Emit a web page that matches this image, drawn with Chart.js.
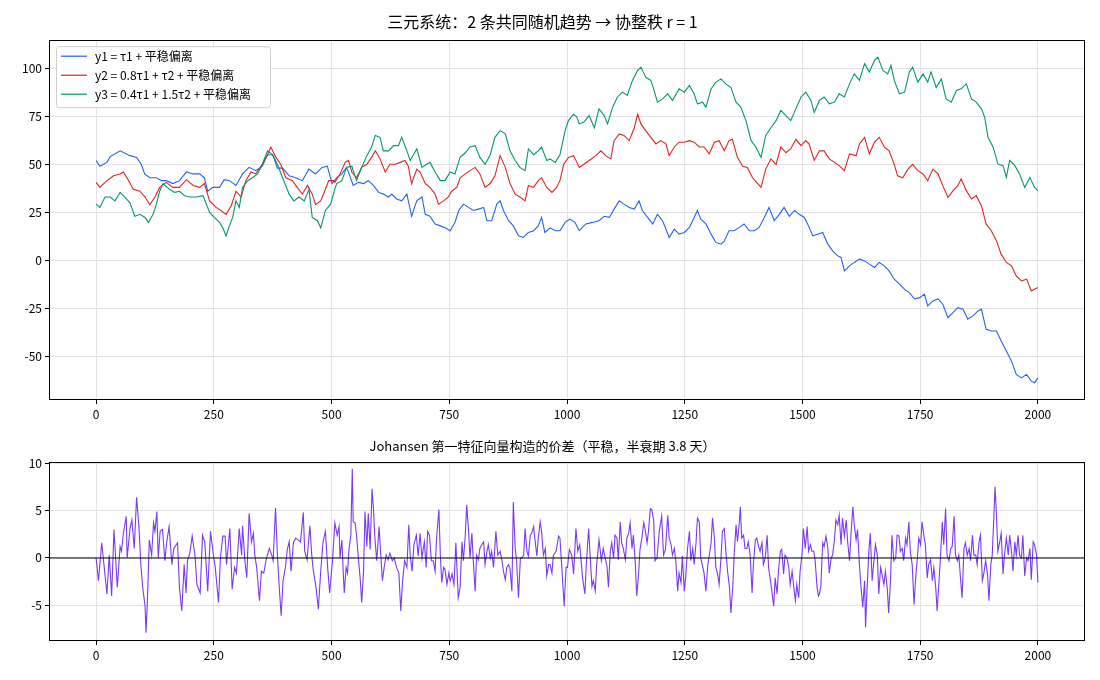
<!DOCTYPE html>
<html>
<head>
<meta charset="utf-8">
<title>三元系统</title>
<script src="https://cdn.jsdelivr.net/npm/chart.js@4.4.1/dist/chart.umd.min.js"></script>
<style>
  html, body { margin: 0; padding: 0; background: #fff; }
  #wrap { position: relative; width: 1100px; height: 680px; }
  .box { position: absolute; left: 0; width: 1100px; }
</style>
</head>
<body>
<div id="wrap">
  <div class="box" style="top:0;height:425px"><canvas id="trendChart" width="1100" height="425"></canvas></div>
  <div class="box" style="top:425px;height:255px"><canvas id="spreadChart" width="1100" height="255"></canvas></div>
</div>
<script>
// values, [t, value]
const y1Pts = [[0,52],[8,49],[23,51],[30,54],[51,57],[72,54.5],[86,53.6],[96,50],[103,45],[114,43],[128,43],[139,41.5],[149,41.5],[163,40],[177,41.5],[192,46],[206,45],[220,45],[230,43],[237,36],[248,38],[262,38],[272,42],[283,41.5],[297,39],[311,45],[325,48.4],[339,46.7],[353,49],[364,55],[375,55],[385,48],[396,48],[410,44],[424,43],[438,41.5],[452,47.5],[466,45],[480,48.4],[491,49],[501,40],
  [511,43],[522,45],[532,48.4],[539,44],[546,39],[557,40.6],[568,40],[578,41.5],[589,39],[600,35.4],[610,34.5],[621,33],[628,34.5],[638,32],[649,31],[660,34.5],[670,23],[681,31],[692,33],[699,24],[709,23],[720,19],[731,18],[741,17],[752,15.5],[762,19.8],[770,26],[780,29.3],[791,27.6],[801,26],[812,26.7],[823,27.6],[830,20.7],[840,20.7],[851,29.3],[858,31],[865,26],[876,20.7],[886,18],[897,12.8],[907,12],[918,14.6],[929,15.5],[939,18],[946,22.4],[953,14.6],[964,17],[975,15.5],[985,15.5],[996,19.8],[1006,21.5],[1017,19.8],[1026,15.5],
  [1040,19],[1054,19.8],[1068,20.7],[1079,23],[1090,22.4],[1100,26.7],[1111,31],[1121,29.3],[1132,27.6],[1143,26.7],[1153,31],[1160,26],[1171,22.4],[1182,19],[1192,24],[1203,20.7],[1217,12],[1228,16.3],[1238,13.7],[1249,14.6],[1260,17.2],[1270,22.4],[1277,26],[1284,21.5],[1295,19],[1306,13.7],[1316,9.4],[1327,8.5],[1334,10],[1344,15.5],[1355,15.5],[1366,17.2],[1376,19],[1387,15.5],[1398,15.5],[1408,17.2],[1419,22.4],[1429,27.6],[1440,20.7],[1451,24],[1461,27.6],[1472,23],[1483,26],[1493,24],[1504,22.4],[1511,19],
  [1522,12.8],[1532,13.7],[1543,14.6],[1554,8.5],[1564,5],[1575,2.4],[1582,1.6],[1589,-5.4],[1600,-2.8],[1610,-1],[1621,0.7],[1632,-0.2],[1642,-1.9],[1653,-3.6],[1663,-1],[1674,-2.8],[1684,-5.4],[1695,-9.7],[1706,-12.3],[1717,-15],[1727,-16.7],[1738,-20],[1749,-19.3],[1759,-17.5],[1766,-23.6],[1777,-21],[1788,-20],[1798,-22.7],[1809,-29.7],[1820,-27],[1830,-24.5],[1841,-25.3],[1851,-30.5],[1862,-28.8],[1873,-26.2],[1880,-25.3],[1890,-35.8],[1901,-36.6],[1912,-36.6],[1922,-41.8],[1933,-47],[1944,-52.3],[1954,-59.2],[1965,-61],[1976,-59.2],[1986,-62.7],[1993,-63.5],[2000,-61]];

const y2Pts = [[0,40.6],[8,38],[23,41.5],[37,44],[51,45],[58,46],[68,42],[79,37],[93,36],[104,33],[114,29],[125,33],[135,38],[149,40.6],[163,38],[177,38],[192,42],[206,39],[220,38],[230,40],[241,31],[255,27.6],[265,26],[276,24],[287,28.5],[297,36],[308,33],[318,41.5],[329,46],[339,45],[353,50],[364,55],[371,59],[382,53.6],[392,50],[403,43],[417,41.5],[427,38],[438,34.5],[449,39],[459,34.5],[466,29],[477,31],[487,37],[494,41.5],[505,41.5],
  [507,40.6],[518,45],[529,51],[536,52],[543,46],[553,43],[564,48.4],[575,50],[585,53.6],[593,57],[603,52.8],[614,46],[624,50],[635,50],[646,51],[656,52],[663,49],[670,40],[681,47.5],[688,46],[699,40],[709,38],[720,34.5],[727,29.3],[738,31],[748,33],[755,36],[766,38],[773,43],[784,45],[794,46.7],[805,48.4],[815,45],[826,38],[837,40],[847,44],[858,54.5],[869,48.4],[879,40],[890,34.5],[900,33],[911,31],[918,39],[929,38],[939,41.5],[946,43],[957,38],[968,35.4],[978,38],[985,41.5],[993,50],[1003,53.6],[1014,54.5],[1021,51],[1026,48.4],
  [1036,50],[1047,52],[1061,54.5],[1072,57],[1082,54.5],[1093,52.8],[1100,62.3],[1111,65.8],[1121,65],[1132,62.3],[1143,69],[1150,76],[1157,71],[1167,67.5],[1178,64],[1189,60.6],[1199,62.3],[1210,60.6],[1217,54.5],[1228,59],[1238,61.5],[1249,61.5],[1260,62.3],[1270,61.5],[1281,59],[1291,59],[1302,55.4],[1313,61.5],[1323,62.3],[1334,57],[1344,62.3],[1351,63],[1362,53.6],[1373,49],[1383,48.4],[1394,43],[1405,40],[1412,38],[1422,47.5],[1433,52.8],[1444,50],[1454,59],[1465,56],[1475,58],[1486,63],[1497,59.7],[1507,62.3],[1514,60.6],
  [1525,52],[1536,57],[1546,57],[1557,52.8],[1568,51],[1578,49.3],[1589,46.7],[1600,55.4],[1614,54.5],[1621,60.6],[1632,64],[1642,55.4],[1653,61.5],[1663,64],[1674,58.9],[1684,57],[1695,50],[1702,44],[1713,43],[1724,47.5],[1734,50],[1745,46.7],[1756,45],[1766,41.5],[1777,47.5],[1788,45],[1798,38.9],[1809,32.8],[1820,36.3],[1830,38.9],[1837,42.4],[1848,36.3],[1859,32],[1869,33.7],[1880,28.5],[1890,19],[1901,15.5],[1912,10.2],[1922,3.3],[1933,-1],[1944,-2.8],[1954,-8],[1965,-10.6],[1976,-9.7],[1986,-15.8],[2000,-14]];

const y3Pts = [[0,29.3],[8,27.6],[19,33],[30,33],[40,31],[51,35.4],[61,33],[72,30],[82,23],[93,24],[104,22.4],[111,19.8],[121,24],[128,29.3],[135,36],[142,40],[156,37],[167,35.4],[177,36],[188,33.7],[199,33],[213,33],[227,33.7],[241,25],[251,22.4],[262,19.8],[269,17],[276,12.8],[283,18],[290,22.4],[297,31],[304,27.6],[311,38],[322,41.5],[332,43],[343,45],[353,50],[364,57],[375,55],[385,50],[396,43],[410,34.5],[420,31],[431,33],[442,31],[452,37],[459,22.4],[470,20.7],[477,17],[487,26],[498,29.3],[508,38],
  [511,40],[522,41.5],[532,48.4],[543,49],[553,41.5],[564,48.4],[575,54.5],[585,59],[593,65],[603,64],[610,57],[621,57],[632,59.7],[642,59.7],[649,64],[660,57],[667,52],[681,58],[692,48.4],[702,50],[709,51],[720,46],[731,41.5],[741,41.5],[752,46],[762,45],[773,53.6],[784,56],[794,59],[805,59.7],[815,53.6],[826,50],[837,55],[847,64],[858,67.5],[869,65.8],[879,57],[890,52],[900,48.4],[911,46.7],[918,58],[929,55],[939,57],[946,59],[957,52],[964,52.8],[975,51],[985,55],[996,67.5],[1003,72.7],[1014,76],[1021,74.5],[1026,71],
  [1036,72],[1047,75.3],[1058,69],[1068,78.8],[1079,75.3],[1086,71],[1097,79.7],[1107,85],[1118,87.5],[1128,85.8],[1139,93.6],[1150,98.8],[1157,100.5],[1167,95.3],[1178,93.6],[1185,88.4],[1192,82.3],[1203,84],[1214,86.6],[1224,83.2],[1238,89.2],[1249,87.5],[1260,91],[1270,86.6],[1277,81.4],[1288,82.3],[1295,79.7],[1306,89.2],[1316,92.7],[1327,94.4],[1337,91.8],[1348,90],[1359,82.3],[1369,79.7],[1380,72.7],[1391,62.3],[1401,59],[1412,53.6],[1422,65],[1433,69],[1444,72.7],[1454,78],[1465,75.3],[1475,72.7],[1486,78.8],[1497,85],[1507,87.5],[1518,83.2],
  [1525,77],[1536,83.2],[1546,85],[1557,81.4],[1568,82.3],[1578,86.6],[1589,85],[1600,91.8],[1610,97],[1621,93.6],[1632,102.3],[1642,98],[1653,104],[1660,105.7],[1671,98.8],[1681,97],[1688,101.4],[1695,93.6],[1706,86.6],[1717,87.5],[1727,98],[1734,100.5],[1745,92.7],[1756,97],[1766,92.7],[1773,98],[1784,90],[1795,94.4],[1805,84],[1816,82.3],[1827,88.4],[1837,89.2],[1848,91.8],[1859,84],[1869,82.3],[1880,78.8],[1887,74.5],[1894,64],[1905,58.9],[1915,50.2],[1926,49.3],[1933,43.2],[1940,52],[1951,49.3],[1961,45],[1972,38],[1983,43.2],[1993,38],[2000,36.3]];

const spreadPts = [[0,0],[5,-2.4],[12,1.6],[23,-3.8],[28,0.3],[33,-4],[38,3],[45,-3.1],[51,1.2],[54,0.7],[58,2.6],[64,4.4],[66,0],[72,3.1],[76,4],[81,1],[86,6.4],[91,3.3],[95,-0.7],[99,-3.1],[104,-5.1],[106,-7.9],[109,-4.5],[113,1.9],[118,0.3],[122,3.7],[125,2.8],[129,4.9],[132,0],[136,2.8],[141,3],[146,-0.3],[150,1.7],[155,3.3],[161,-0.7],[165,1],[173,1.6],[177,-3.1],[182,-5.6],[187,-0.7],[191,-3.7],[194,-0.3],[199,0.5],[204,2.3],[210,0.3],[214,-2.8],[221,-3.7],[226,2.4],[231,1.6],[237,-3.5],[243,2.8],[249,0.3],[253,-1],[260,-4.7],[264,0],[269,2.3],[274,2.3],[277,-0.7],[284,3.1],[289,-3.3],[294,-1],[298,-1.6],[304,3.1],[309,0.3],[311,3.4],[316,-0.3],[320,-2.1],[325,4.7],[330,1.7],[334,2.6],[337,0.3],[341,-1],[347,-4.5],[351,-1.4],[356,-1.6],[362,0],[368,1],[373,0.3],[376,-0.3],[381,5.3],[385,0.3],[389,-3.1],[393,-6.1],[397,-2.4],[402,-1],[406,0.9],[410,1.7],[414,-1.4],[419,1.6],[424,2.1],[429,1.9],[434,1.7],[440,4.8],[443,0.7],[448,-0.2],[454,3.4],[458,0.3],[461,-1.2],[467,-3.1],[472,-5.4],[477,-1.4],[482,1.7],[487,2.8],[492,-1.2],[496,-3.7],[502,-0.3],[507,3.7],[512,2.4],[516,3.3],
  [518,0],[522,1.9],[525,-1.7],[527,-3.7],[531,-1],[534,-1.6],[537,0.9],[541,2.4],[544,9.4],[546,3.8],[550,3.7],[553,2.4],[557,0],[561,-2.3],[564,-4.7],[568,-1.4],[571,4.9],[575,1.2],[578,4.7],[582,0.9],[586,7.3],[589,5.2],[592,2.1],[596,-0.3],[601,3.3],[604,0.7],[608,-2.4],[612,-0.9],[616,0.3],[620,-0.2],[624,0.5],[629,-0.3],[633,0],[638,-1],[643,-1.6],[647,-5.6],[651,-2.4],[655,-0.3],[660,-1],[664,3.5],[667,0.3],[671,-1.4],[675,1.4],[680,2.4],[684,0.2],[688,2.6],[692,0],[697,1.7],[701,-1],[704,2.8],[708,2.4],[712,-0.3],[716,-0.3],[720,-1.4],[723,2.1],[728,5.1],[731,0.3],[734,-2.6],[738,-1],[741,-1.2],[745,-2.8],[749,-1.6],[752,-2.4],[756,-1.7],[760,-2.8],[764,1.6],[769,-4.2],[773,-3.1],[777,1.7],[780,-0.3],[784,2.4],[787,5.6],[791,2.8],[794,0],[798,2.6],[801,-0.3],[805,-3.5],[808,0.3],[812,-0.2],[815,1],[819,1.4],[823,1.7],[826,-0.7],[830,0.7],[833,1.4],[837,0],[840,0.7],[844,-1],[849,2.8],[853,0.3],[858,0.7],[862,-0.3],[865,-1.4],[869,-2.3],[872,-1],[876,-0.7],[879,-1.2],[883,-3.5],[886,5.9],[890,1],[893,-0.3],[897,-4.2],[901,0],[904,0],[908,0.3],[911,3.1],[915,0.7],[918,0.2],[922,2.4],[925,2.6],[929,3.3],[932,1.9],[936,0.2],[939,2.1],[943,3.8],[946,2.8],[950,0.3],[954,1],[957,-1.9],[961,-0.7],[964,-0.7],[968,-1.6],[971,0.3],[977,0.7],[982,2.3],[985,2.1],[989,-1],[994,-5.1],[998,-1],[1001,-1],[1005,0.9],[1010,0.3],[1014,-1.7],[1019,3.1],[1023,0.7],[1027,1.4],
  [1029,0.3],[1033,-2.1],[1038,-3.8],[1041,-0.7],[1046,3.1],[1049,0.3],[1053,-3],[1056,-2.4],[1060,-3.5],[1063,-0.7],[1068,1.9],[1073,-0.3],[1077,1],[1081,0],[1085,-0.9],[1088,-3.1],[1092,0.7],[1095,1.6],[1099,0],[1102,2.4],[1106,2.1],[1109,-0.2],[1113,3.8],[1116,1.6],[1120,0.9],[1124,-0.2],[1127,2.1],[1131,2.6],[1134,3.7],[1138,1],[1141,2.4],[1145,-0.5],[1148,-4],[1152,-1.7],[1155,0.9],[1159,2.1],[1163,3.7],[1166,3],[1170,1.6],[1173,2.8],[1177,5.2],[1180,5.1],[1184,4],[1187,-0.3],[1191,0],[1196,2.8],[1201,4.4],[1205,0.3],[1209,0.9],[1214,4.5],[1217,2.1],[1221,1.4],[1224,0.3],[1228,1],[1231,-0.3],[1235,-3.5],[1238,-1.6],[1242,-2.6],[1245,0.2],[1249,-3.5],[1252,-2.1],[1256,1],[1260,2.8],[1263,-0.3],[1267,1],[1270,-0.7],[1274,1.6],[1277,4.2],[1281,3.8],[1284,0],[1288,-0.9],[1291,-1.6],[1295,-3.5],[1299,-0.7],[1302,0.2],[1306,1.6],[1309,4.2],[1313,2.1],[1316,-1],[1320,-1.7],[1323,-2.8],[1327,0],[1330,2.8],[1334,3.1],[1338,0.3],[1341,-1.4],[1345,-3.1],[1348,-5.8],[1352,-3.1],[1355,0.3],[1359,3.5],[1362,1.7],[1366,3.8],[1368,5.4],[1371,2.1],[1375,2.4],[1378,1],[1382,1],[1385,1.7],[1389,0.3],[1393,-3.7],[1396,-0.5],[1400,1.9],[1403,2.1],[1407,1.2],[1410,0.7],[1414,1.6],[1417,-0.7],[1421,0],[1425,2.4],[1428,-1],[1432,-2.4],[1435,-3.5],[1439,-5.1],[1442,-2.1],[1446,-3.8],[1449,-1.4],[1453,0.7],[1456,0.9],[1460,-1.7],[1463,0.3],[1467,0],[1471,-1],[1474,-2.8],[1478,-1.4],[1481,-2.8],[1485,-4.5],[1488,-2.8],[1492,-4.2],[1495,-1.4],[1499,0.3],[1502,3.1],[1506,1],[1510,3.3],[1513,0.7],[1517,1.4],[1520,0.7],[1524,0.7],[1527,-0.3],[1531,-3.1],[1534,-4],
  [1536,-3.8],[1539,-3],[1543,1.6],[1546,1.2],[1550,2.3],[1554,1],[1557,-1.6],[1561,0],[1564,0.3],[1568,1.9],[1571,4],[1575,3.5],[1578,4.5],[1582,1.4],[1585,4.2],[1589,2.3],[1593,4],[1596,1.7],[1600,-0.3],[1603,2.4],[1607,5.4],[1610,3.5],[1614,1.9],[1617,3],[1621,-0.7],[1624,-2.8],[1628,-5.2],[1632,-2.4],[1634,-7.3],[1637,-3.5],[1641,0.7],[1644,2.6],[1648,-2.4],[1651,-0.7],[1655,1.4],[1659,0.3],[1662,-3.8],[1666,-1],[1669,-1.7],[1673,-2.8],[1676,-1.4],[1680,-3.1],[1683,-5.8],[1687,-2.4],[1690,2.4],[1694,-0.3],[1698,0],[1701,2.4],[1705,2.3],[1708,0.7],[1712,1],[1715,-0.3],[1719,2.1],[1722,1.4],[1726,3.8],[1729,0.7],[1733,-0.7],[1737,-4.9],[1740,-2.4],[1744,0],[1747,2.1],[1751,1.4],[1754,3.8],[1758,2.3],[1761,1.4],[1765,-2.1],[1768,-0.7],[1772,-0.2],[1776,-2.4],[1779,-1],[1783,-3.1],[1786,-5.6],[1790,-2.4],[1793,0],[1797,3.8],[1800,1.4],[1804,5.2],[1807,0.3],[1811,-0.3],[1815,1],[1818,1.2],[1822,4.4],[1825,0.3],[1829,-0.3],[1832,0.3],[1836,-2.4],[1839,-4.2],[1843,1],[1846,1.6],[1850,0.3],[1854,1],[1857,-0.3],[1861,2.4],[1864,0.3],[1868,0.3],[1871,-0.7],[1875,1.7],[1878,2.4],[1882,-2.4],[1885,-1.7],[1889,-0.3],[1893,-1.7],[1896,-4.5],[1900,-0.7],[1903,0.3],[1906,3.8],[1909,7.5],[1912,4.5],[1915,0.7],[1919,1.7],[1922,2.6],[1926,-1.7],[1929,0.3],[1933,2.1],[1937,0.3],[1940,2.4],[1944,0.7],[1947,-1.4],[1951,1.7],[1954,0.3],[1958,2.4],[1961,0.3],[1965,0],[1968,2.4],[1972,-1.9],[1976,0],[1979,-0.3],[1983,1],[1986,-2.3],[1990,1.7],[1993,1.4],[1997,0.3],[2000,-2.6]];

const zeroLine = [[-100,0],[2100,0]];

const xTicks = [0, 250, 500, 750, 1000, 1250, 1500, 1750, 2000];
const trendTicks = [-50, -25, 0, 25, 50, 75, 100];
const spreadTicks = [-5, 0, 5, 10];

const seriesNames = ['y1 = τ1 + 平稳偏离', 'y2 = 0.8τ1 + τ2 + 平稳偏离', 'y3 = 0.4τ1 + 1.5τ2 + 平稳偏离'];
const seriesColors = ['#2563eb', '#dc2626', '#059669'];
const spreadColor = '#7c3aed';

const FONT = '"Noto Sans CJK SC", "Noto Sans", sans-serif';
const GRID = '#e3e3e3';
const toXY = pts => pts.map(p => ({ x: p[0], y: p[1] }));
const fixedTicks = values => s => { s.ticks = values.map(v => ({ value: v })); };

// black box around the plot area, like a matplotlib axes frame
const framePlugin = {
  id: 'frame',
  afterDraw(chart) {
    const { ctx, chartArea: a } = chart;
    ctx.save();
    ctx.strokeStyle = '#000';
    ctx.lineWidth = 1;
    ctx.strokeRect(Math.round(a.left) + 0.5, Math.round(a.top) + 0.5,
                   Math.round(a.right - a.left) - 1, Math.round(a.bottom - a.top) - 1);
    ctx.restore();
  }
};

// legend drawn inside the plot, upper left
const insideLegend = {
  id: 'insideLegend',
  afterDatasetsDraw(chart, args, opts) {
    if (!opts.show) return;
    const ctx = chart.ctx, a = chart.chartArea;
    const items = chart.data.datasets.filter(d => d.inLegend);
    const x0 = a.left + 7, y0 = a.top + 6, w = 214, rowH = 19;
    const h = items.length * rowH + 4;
    ctx.save();
    ctx.fillStyle = 'rgba(255,255,255,0.85)';
    ctx.strokeStyle = '#cfcfcf';
    ctx.lineWidth = 1;
    ctx.beginPath();
    ctx.roundRect(x0 + 0.5, y0 + 0.5, w, h, 3);
    ctx.fill();
    ctx.stroke();
    ctx.font = '12px ' + FONT;
    ctx.textBaseline = 'middle';
    items.forEach((d, i) => {
      const y = y0 + 10 + i * rowH;
      ctx.strokeStyle = d.borderColor;
      ctx.lineWidth = 1.2;
      ctx.beginPath();
      ctx.moveTo(x0 + 5, y);
      ctx.lineTo(x0 + 31, y);
      ctx.stroke();
      ctx.fillStyle = '#000';
      ctx.fillText(d.label, x0 + 39, y);
    });
    ctx.restore();
  }
};

const plainLabel = v => String(v);

function xAxis(height) {
  return {
    type: 'linear', min: -100, max: 2100,
    ticks: { color: '#000', font: { family: FONT, size: 12 }, padding: 3, maxRotation: 0, autoSkip: false, callback: plainLabel },
    afterBuildTicks: fixedTicks(xTicks),
    afterFit: s => { s.height = height; },
    grid: { color: GRID, tickColor: '#000', tickLength: 4 },
    border: { display: false }
  };
}
function yAxis(min, max, values) {
  return {
    min: min, max: max,
    ticks: { color: '#000', font: { family: FONT, size: 12 }, padding: 3, autoSkip: false, callback: plainLabel },
    afterBuildTicks: fixedTicks(values),
    afterFit: s => { s.width = 49; },
    grid: { color: GRID, tickColor: '#000', tickLength: 4 },
    border: { display: false }
  };
}

const lineStyle = { pointRadius: 0, borderWidth: 1.1, tension: 0, fill: false };

new Chart(document.getElementById('trendChart'), {
  type: 'line',
  data: {
    datasets: [y1Pts, y2Pts, y3Pts].map((pts, i) => Object.assign({
      label: seriesNames[i],
      data: toXY(pts),
      borderColor: seriesColors[i],
      inLegend: true,
      order: 3 - i
    }, lineStyle))
  },
  options: {
    responsive: false,
    animation: false,
    layout: { padding: { left: 0, right: 15, top: 0, bottom: 0 } },
    scales: { x: xAxis(25), y: yAxis(-72.5, 114.5, trendTicks) },
    plugins: {
      legend: { display: false },
      tooltip: { enabled: false },
      title: {
        display: true,
        text: '三元系统：2 条共同随机趋势 → 协整秩 r = 1',
        color: '#000',
        font: { family: FONT, size: 16, weight: 'normal' },
        padding: { top: 12, bottom: 9 }
      },
      insideLegend: { show: true }
    }
  },
  plugins: [insideLegend, framePlugin]
});

new Chart(document.getElementById('spreadChart'), {
  type: 'line',
  data: {
    datasets: [
      Object.assign({ label: 'zero', data: toXY(zeroLine), borderColor: '#000', order: 0 }, lineStyle),
      Object.assign({ label: 'spread', data: toXY(spreadPts), borderColor: spreadColor, order: 1 }, lineStyle)
    ]
  },
  options: {
    responsive: false,
    animation: false,
    layout: { padding: { left: 0, right: 15, top: 0, bottom: 0 } },
    scales: { x: xAxis(39), y: yAxis(-8.76, 10.16, spreadTicks) },
    plugins: {
      legend: { display: false },
      tooltip: { enabled: false },
      title: {
        display: true,
        text: 'Johansen 第一特征向量构造的价差（平稳，半衰期 3.8 天）',
        color: '#000',
        font: { family: FONT, size: 13, weight: 'normal' },
        padding: { top: 13, bottom: 8 }
      }
    }
  },
  plugins: [framePlugin]
});
</script>
</body>
</html>
